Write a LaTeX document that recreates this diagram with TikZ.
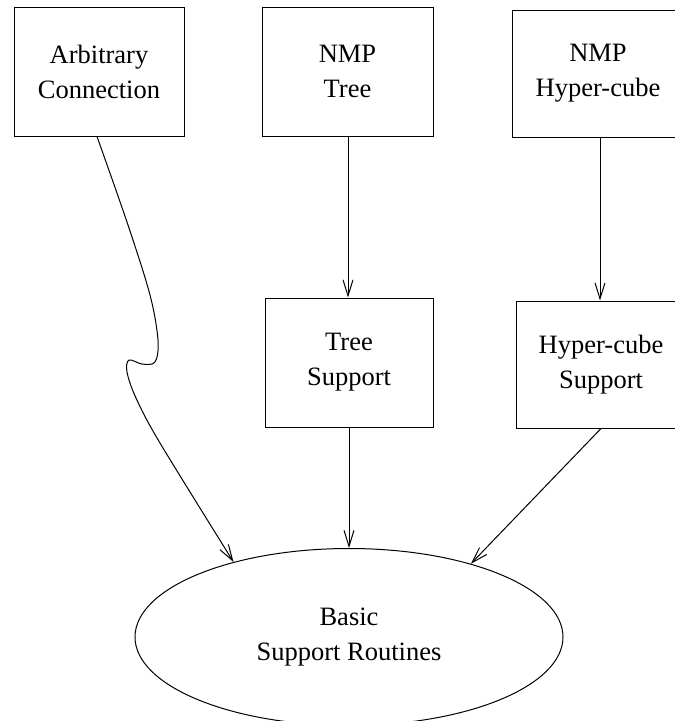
\documentclass[tikz,border=0pt]{standalone}
\usepackage{fontspec}
\setmainfont{Liberation Serif}
\usetikzlibrary{shapes.geometric,arrows.meta}
\begin{document}
\begin{tikzpicture}[x=1pt,y=-1pt,
  lbl/.style={font=\fontsize{26.5}{35}\selectfont, align=center, inner sep=0pt},
  box/.style={lbl, draw, line width=1pt, minimum height=129pt},
  oval/.style={lbl, draw, ellipse, line width=1pt},
  link/.style={line width=1pt, -{Straight Barb[length=16pt,width=10pt,line width=1pt]}}]
  \useasboundingbox (0,0) rectangle (675,721);
  \clip (0,0) rectangle (675,721);

  % top row
  \node[box, minimum width=170pt] (arb) at (99,71.5) {Arbitrary\\Connection};
  \node[box, minimum width=171pt] (nmptree) at (347.5,71.5) {NMP\\Tree};
  \node[box, minimum width=172pt, minimum height=127pt] (nmpcube) at (598,73.5) {NMP\\Hyper-cube};

  % middle row
  \node[box, minimum width=168pt] (treesup) at (349,362.5) {Tree\\Support};
  \node[box, minimum width=170pt, minimum height=127pt] (cubesup) at (601,364.5) {Hyper-cube\\Support};

  % bottom
  \node[oval, minimum width=428pt, minimum height=177pt] (basic) at (349,637) {Basic\\Support Routines};

  % connectors
  \draw[link] (nmptree.south -| 348,0) -- (treesup.north -| 348,0);
  \draw[link] (nmpcube.south -| 600,0) -- (cubesup.north -| 600,0);
  \draw[link] (treesup.south) -- (basic.north);
  \draw[link] (cubesup.south) -- (basic.31.6);
  \draw[link] plot[smooth, tension=0.55] coordinates {
    (arb.south -| 97,0) (128,225) (150,295) (158,340) (155,362)
    (142,364) (129,360) (127,372) (136,398) (160,443) (basic.147.7)};
\end{tikzpicture}
\end{document}
